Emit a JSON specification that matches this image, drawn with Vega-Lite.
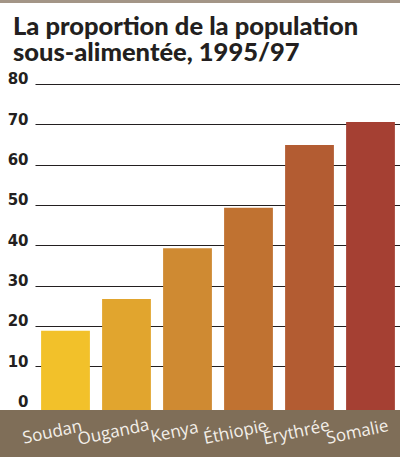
{
  "$schema": "https://vega.github.io/schema/vega-lite/v6.json",
  "width": 400,
  "height": 457,
  "padding": 0,
  "autosize": {"type": "none"},
  "background": "white",
  "title": {
    "text": ["La proportion de la population", "sous-alimentée, 1995/97"],
    "anchor": "start",
    "frame": "group",
    "orient": "top",
    "offset": -86,
    "dx": 13,
    "baseline": "alphabetic",
    "font": "Lato",
    "fontSize": 25.5,
    "fontWeight": 900,
    "color": "#231f20",
    "lineHeight": 26
  },
  "config": {"view": {"stroke": null}},
  "data": {
    "values": [
      {"pays": "Soudan", "valeur": 18.8},
      {"pays": "Ouganda", "valeur": 26.7},
      {"pays": "Kenya", "valeur": 39.3},
      {"pays": "Éthiopie", "valeur": 49.3},
      {"pays": "Érythrée", "valeur": 64.9},
      {"pays": "Somalie", "valeur": 70.6}
    ]
  },
  "layer": [
    {
      "data": {"values": [{}]},
      "mark": {"type": "rect", "color": "#a39587"},
      "encoding": {
        "y": {"datum": 100.82, "type": "quantitative"},
        "y2": {"datum": 100.08}
      }
    },
    {
      "data": {"values": [{}]},
      "mark": {"type": "rect", "color": "#7f6e58"},
      "encoding": {
        "y": {"datum": -12.48, "type": "quantitative"},
        "y2": {"datum": -0.8}
      }
    },
    {
      "mark": {"type": "bar"},
      "encoding": {
        "x": {
          "field": "pays",
          "type": "nominal",
          "sort": null,
          "scale": {"range": [35, 401], "paddingInner": 0.2, "paddingOuter": 0.1},
          "axis": {
            "title": null,
            "orient": "bottom",
            "offset": -29,
            "zindex": 2,
            "domain": false,
            "ticks": false,
            "tickSize": 0,
            "labelPadding": 4,
            "labelAngle": -12,
            "labelAlign": "center",
            "labelBaseline": "middle",
            "labelOffset": -13,
            "labelFont": "Open Sans",
            "labelFontSize": 17,
            "labelColor": "#f4f0ea"
          }
        },
        "y": {
          "field": "valeur",
          "type": "quantitative",
          "scale": {"domain": [-12.48, 100.82], "nice": false, "zero": false},
          "axis": {
            "title": null,
            "orient": "left",
            "offset": -35,
            "values": [0, 10, 20, 30, 40, 50, 60, 70, 80],
            "domain": false,
            "grid": false,
            "ticks": true,
            "tickSize": -365,
            "tickWidth": 1.2,
            "tickColor": "#231f20",
            "tickOpacity": {"condition": {"test": "datum.value === 0", "value": 0}, "value": 1},
            "labelPadding": 372,
            "labelFont": "DejaVu Sans",
            "labelFontWeight": "bold",
            "labelFontSize": 15,
            "labelColor": "#231f20",
            "labelBaseline": "alphabetic",
            "labelAlign": "right"
          }
        },
        "y2": {"datum": -0.8},
        "color": {
          "field": "pays",
          "type": "nominal",
          "scale": {
            "domain": ["Soudan", "Ouganda", "Kenya", "Éthiopie", "Érythrée", "Somalie"],
            "range": ["#f2c12a", "#e1a52e", "#cf8a32", "#c07231", "#b35c32", "#a54033"]
          },
          "legend": null
        }
      }
    }
  ]
}
